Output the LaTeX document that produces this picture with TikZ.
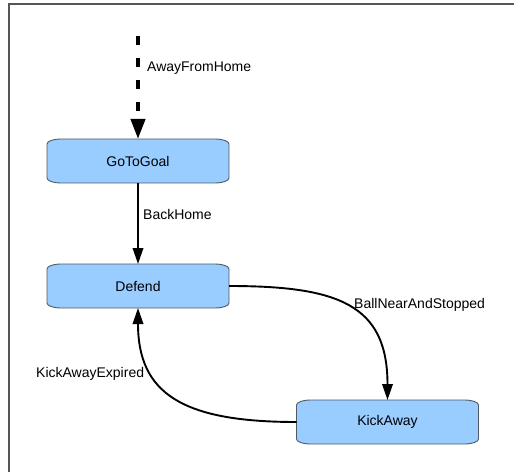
\documentclass[tikz,border=0pt]{standalone}
\usepackage{fontspec}
\setmainfont{Liberation Sans}
\usetikzlibrary{arrows.meta,calc,backgrounds}

\definecolor{statefill}{HTML}{99CCFF}
\definecolor{stateline}{HTML}{4F5A66}
\definecolor{framegray}{HTML}{555555}

\tikzset{
  statetext/.style={minimum width=182pt, minimum height=44pt, inner sep=0pt, outer sep=0pt,
    font=\fontsize{14}{16}\selectfont},
  stateshape/.style={fill=statefill, draw=stateline, line width=0.9pt},
  edgelabel/.style={font=\fontsize{14}{16}\selectfont, inner sep=0pt, anchor=west},
  trans/.style={line width=1.9pt, -{Triangle[length=16pt,width=10.5pt]}},
  initial/.style={line width=4pt, dash pattern=on 9pt off 13pt,
    -{Triangle[length=20pt,width=14pt]}},
}

% a state: text node plus a box with elliptical corners behind it
\newcommand\statebox[3]{%
  \node[statetext] (#1) at (#2) {#3};
  \begin{scope}[on background layer]
    \draw[stateshape]
      ($(#1.north west)+(0,-5pt)$) arc[start angle=180,end angle=90,x radius=14pt,y radius=5pt]
      -- ($(#1.north east)+(-14pt,0)$) arc[start angle=90,end angle=0,x radius=14pt,y radius=5pt]
      -- ($(#1.south east)+(0,5pt)$) arc[start angle=0,end angle=-90,x radius=14pt,y radius=5pt]
      -- ($(#1.south west)+(14pt,0)$) arc[start angle=270,end angle=180,x radius=14pt,y radius=5pt]
      -- cycle;
  \end{scope}}

\begin{document}
\begin{tikzpicture}[x=1pt,y=1pt]
  \useasboundingbox (0,0) rectangle (514,472);

  % page frame (top and left edges)
  \draw[framegray, line width=1.5pt] (9,0) -- (9,468) -- (514,468);

  \statebox{goal}{138,311}{GoToGoal}
  \statebox{defend}{138,186}{Defend}
  \statebox{kick}{387.5,50}{KickAway}

  \coordinate (start) at (138,436);

  \draw[initial] (start) -- (goal.north);
  \draw[trans] (goal.south) -- (defend.north);
  \draw[trans] (defend.east) .. controls +(110,0) and +(0,95) .. (kick.north);
  \draw[trans] (kick.west) .. controls +(-115,0) and +(0,-85) .. (defend.south);

  \node[edgelabel] (lblaway) at (147,404) {AwayFromHome};
  \node[edgelabel] (lblback) at (143,258) {BackHome};
  \node[edgelabel] (lblball) at (354,167) {BallNearAndStopped};
  \node[edgelabel] (lblexp) at (36,98) {KickAwayExpired};
\end{tikzpicture}
\end{document}
